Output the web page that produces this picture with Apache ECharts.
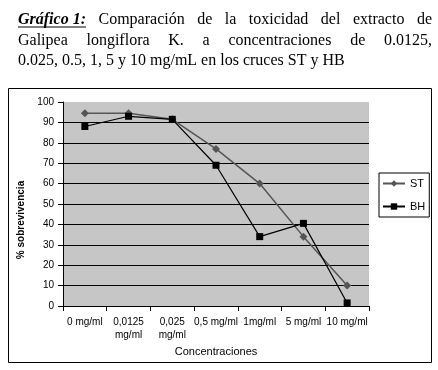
<!DOCTYPE html>
<html><head><meta charset="utf-8">
<script src="https://cdn.jsdelivr.net/npm/echarts@6/dist/echarts.min.js"></script>
<style>html,body{margin:0;padding:0;background:#fff}#c{width:438px;height:370px}</style>
</head><body><div id="c"></div>
<script>
// ---- data ----
const categories = ['0 mg/ml', '0,0125\nmg/ml', '0,025\nmg/ml', '0,5 mg/ml', '1mg/ml', '5 mg/ml', '10 mg/ml'];
const seriesNames = ['ST', 'BH'];
const valuesST = [94.5, 94.5, 91.5, 77, 60, 34, 10];
const valuesBH = [88, 93, 91.5, 69, 34, 40.5, 1.5];
const titleLine1 = ['Comparación', 'de', 'la', 'toxicidad', 'del', 'extracto', 'de'];
const titleLead = 'Gráfico 1:';
const titleLine2 = ['Galipea', 'longiflora', 'K.', 'a', 'concentraciones', 'de', '0.0125,'];
const titleLine3 = '0.025, 0.5, 1, 5 y 10 mg/mL en los cruces ST y HB';
const yAxisTitle = '% sobrevivencia';
const xAxisTitle = 'Concentraciones';

// ---- layout helpers ----
const serif = '"Liberation Serif", "Times New Roman", serif';
const sans = '"Liberation Sans Narrow", "Arial Narrow", "Liberation Sans", Arial, sans-serif';
const TS = 16;
const ctx = document.createElement('canvas').getContext('2d');
function w(text, bold) {
  ctx.font = (bold ? 'italic bold ' : '') + TS + 'px ' + serif;
  return ctx.measureText(text).width;
}
const L = 18, R = 432;
const graphics = [];
function addText(text, x, y, bold) {
  graphics.push({type: 'text', x: x, y: y, style: {text: text, fill: '#000',
    fontFamily: serif, fontSize: TS, fontWeight: bold ? 'bold' : 'normal', fontStyle: bold ? 'italic' : 'normal',
    textAlign: 'left', textVerticalAlign: 'middle', verticalAlign: 'middle'}});
}
function justify(tokens, y) {
  const widths = tokens.map(t => w(t.text, t.bold));
  const gap = (R - L - widths.reduce((a, b) => a + b, 0)) / (tokens.length - 1);
  let x = L;
  tokens.forEach((t, i) => { addText(t.text, x, y, t.bold); x += widths[i] + gap; });
}
const y1 = 20, y2 = 41, y3 = 61;
justify([{text: titleLead, bold: true}].concat(titleLine1.map(t => ({text: t}))), y1);
graphics.push({type: 'line', shape: {x1: L, y1: y1 + 7, x2: L + w(titleLead, true), y2: y1 + 7},
  style: {stroke: '#000', lineWidth: 1}});
justify(titleLine2.map(t => ({text: t})), y2);
addText(titleLine3, L, y3, false);
graphics.push({type: 'rect', shape: {x: 8.5, y: 88.5, width: 423, height: 274},
  style: {fill: 'none', stroke: '#000', lineWidth: 1}, z: 100});

const chart = echarts.init(document.getElementById('c'), null, {renderer: 'canvas'});
chart.setOption({
  animation: false,
  backgroundColor: '#fff',
  graphic: graphics,
  grid: {left: 63, right: 69, top: 102, bottom: 64, show: true, backgroundColor: '#c6c6c6',
    borderWidth: 0, outerBoundsMode: 'none', containLabel: false},
  legend: {orient: 'vertical', left: 379, top: 173, padding: [5, 4, 5, 3], itemGap: 12,
    itemWidth: 22, itemHeight: 8, borderColor: '#000', borderWidth: 1, backgroundColor: '#fff',
    textStyle: {fontSize: 11, fontFamily: sans, color: '#000'}, data: seriesNames},
  xAxis: {type: 'category', data: categories, boundaryGap: true,
    axisLine: {lineStyle: {color: '#000', width: 1}},
    axisTick: {show: true, length: 5, alignWithLabel: false, lineStyle: {color: '#000'}},
    axisLabel: {interval: 0, fontSize: 10, fontFamily: sans, color: '#000', margin: 10, lineHeight: 13, hideOverlap: false},
    name: xAxisTitle, nameLocation: 'middle', nameGap: 33,
    nameTextStyle: {fontSize: 11, fontFamily: sans, color: '#000'}},
  yAxis: {type: 'value', min: 0, max: 100, interval: 10,
    axisLine: {show: true, lineStyle: {color: '#000', width: 1}},
    axisTick: {show: true, length: 5, lineStyle: {color: '#000'}},
    axisLabel: {fontSize: 10, fontFamily: sans, color: '#000', margin: 9},
    splitLine: {show: true, showMinLine: false, showMaxLine: false, lineStyle: {color: '#000', width: 1}},
    name: yAxisTitle, nameLocation: 'middle', nameGap: 30, nameRotate: 90,
    nameTextStyle: {fontSize: 10, fontWeight: 'bold', fontFamily: sans, color: '#000', padding: [0, 32, 0, 0]}},
  series: [
    {name: 'ST', type: 'line', data: valuesST, symbol: 'diamond', symbolSize: 8,
      lineStyle: {color: '#555', width: 1.5}, itemStyle: {color: '#555'}},
    {name: 'BH', type: 'line', data: valuesBH, symbol: 'rect', symbolSize: 7,
      lineStyle: {color: '#000', width: 1.2}, itemStyle: {color: '#000'}}
  ]
});
</script></body></html>
